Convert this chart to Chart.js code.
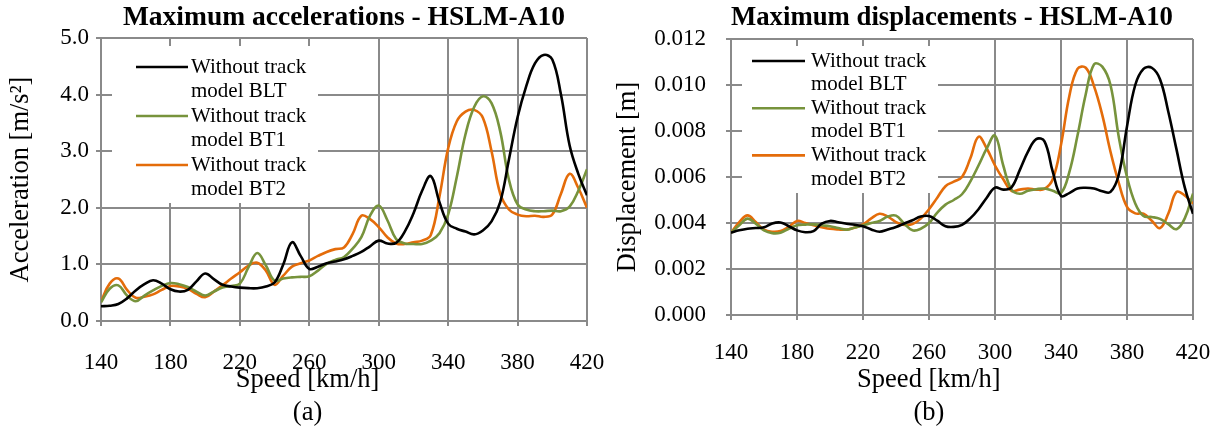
<!DOCTYPE html>
<html>
<head>
<meta charset="utf-8">
<script src="https://cdn.jsdelivr.net/npm/chart.js@4.4.1/dist/chart.umd.min.js"></script>
<style>
  html, body { margin: 0; padding: 0; background: #fff; }
  #wrap { position: relative; width: 1219px; height: 432px; overflow: hidden; }
  .box { position: absolute; top: 0; height: 432px; }
  #boxA { left: 0; width: 640px; z-index: 1; }
  #boxB { left: 600px; width: 619px; z-index: 2; }
</style>
</head>
<body>
<div id="wrap">
  <div class="box" id="boxA"><canvas id="accChart" width="640" height="432"></canvas></div>
  <div class="box" id="boxB"><canvas id="dispChart" width="619" height="432"></canvas></div>
</div>
<script>
// Speeds [km/h]
const speeds = [140, 145, 150, 155, 160, 165, 170, 175, 180, 185, 190, 195, 200, 205, 210, 215, 220, 225, 230, 235,
  240, 245, 250, 255, 260, 265, 270, 275, 280, 285, 290, 295, 300, 305, 310, 315, 320, 325, 330, 335,
  340, 345, 350, 355, 360, 365, 370, 375, 380, 385, 390, 395, 400, 405, 410, 415, 420];
const speedTicks = [140, 180, 220, 260, 300, 340, 380, 420];

// Maximum accelerations [m/s2]
const accBLT = [0.26, 0.27, 0.30, 0.40, 0.54, 0.65, 0.72, 0.66, 0.56, 0.52, 0.55, 0.70, 0.84, 0.74, 0.64, 0.61, 0.59, 0.58, 0.58, 0.61,
  0.68, 1.00, 1.39, 1.15, 0.92, 0.96, 1.02, 1.05, 1.09, 1.15, 1.22, 1.32, 1.42, 1.37, 1.38, 1.58, 1.90, 2.30, 2.56, 2.10,
  1.72, 1.63, 1.58, 1.53, 1.60, 1.76, 2.10, 2.85, 3.60, 4.15, 4.55, 4.70, 4.62, 4.00, 3.10, 2.60, 2.22];
const accBT1 = [0.33, 0.57, 0.63, 0.45, 0.35, 0.45, 0.54, 0.62, 0.67, 0.65, 0.60, 0.52, 0.45, 0.52, 0.59, 0.62, 0.66, 0.95, 1.20, 0.98,
  0.71, 0.75, 0.77, 0.78, 0.79, 0.89, 1.01, 1.08, 1.13, 1.28, 1.48, 1.86, 2.04, 1.78, 1.45, 1.37, 1.36, 1.36, 1.42, 1.55,
  1.88, 2.55, 3.30, 3.78, 3.97, 3.85, 3.35, 2.50, 2.06, 1.97, 1.94, 1.94, 1.95, 1.94, 2.02, 2.30, 2.68];
const accBT2 = [0.34, 0.66, 0.75, 0.55, 0.41, 0.43, 0.47, 0.55, 0.62, 0.61, 0.57, 0.48, 0.42, 0.52, 0.63, 0.75, 0.86, 0.98, 1.03, 0.89,
  0.64, 0.80, 0.96, 1.02, 1.07, 1.15, 1.22, 1.27, 1.30, 1.54, 1.86, 1.80, 1.66, 1.48, 1.37, 1.36, 1.39, 1.42, 1.52, 2.20,
  3.05, 3.53, 3.70, 3.73, 3.59, 3.00, 2.25, 1.97, 1.88, 1.85, 1.86, 1.84, 1.88, 2.25, 2.60, 2.35, 2.00];

// Maximum displacements [m]
const dispBLT = [0.00358, 0.00368, 0.00375, 0.00378, 0.00381, 0.00398, 0.00402, 0.00386, 0.00368, 0.00360, 0.00365, 0.00397, 0.00409, 0.00403, 0.00397, 0.00392, 0.00386, 0.00372, 0.00362, 0.00372,
  0.00383, 0.00398, 0.00412, 0.00428, 0.00430, 0.00410, 0.00386, 0.00383, 0.00392, 0.00420, 0.00460, 0.00510, 0.00554, 0.00545, 0.00555, 0.00630, 0.00710, 0.00765, 0.00755, 0.00623,
  0.00518, 0.00530, 0.00550, 0.00553, 0.00550, 0.00538, 0.00535, 0.00610, 0.00820, 0.01000, 0.01070, 0.01075, 0.01025, 0.00885, 0.00720, 0.00555, 0.00440];
const dispBT1 = [0.00358, 0.00390, 0.00419, 0.00397, 0.00368, 0.00356, 0.00358, 0.00375, 0.00390, 0.00393, 0.00394, 0.00390, 0.00386, 0.00378, 0.00371, 0.00380, 0.00390, 0.00400, 0.00409, 0.00428,
  0.00432, 0.00397, 0.00368, 0.00375, 0.00400, 0.00445, 0.00480, 0.00500, 0.00525, 0.00580, 0.00650, 0.00724, 0.00780, 0.00650, 0.00545, 0.00527, 0.00540, 0.00547, 0.00550, 0.00540,
  0.00530, 0.00620, 0.00780, 0.00960, 0.01090, 0.01080, 0.01000, 0.00775, 0.00600, 0.00485, 0.00430, 0.00426, 0.00418, 0.00395, 0.00373, 0.00420, 0.00528];
const dispBT2 = [0.00358, 0.00404, 0.00433, 0.00404, 0.00371, 0.00362, 0.00365, 0.00383, 0.00409, 0.00400, 0.00390, 0.00382, 0.00375, 0.00372, 0.00371, 0.00380, 0.00394, 0.00420, 0.00440, 0.00428,
  0.00404, 0.00392, 0.00395, 0.00419, 0.00460, 0.00510, 0.00560, 0.00580, 0.00600, 0.00680, 0.00775, 0.00724, 0.00650, 0.00590, 0.00540, 0.00545, 0.00550, 0.00545, 0.00548, 0.00590,
  0.00740, 0.00950, 0.01070, 0.01075, 0.00995, 0.00870, 0.00710, 0.00575, 0.00470, 0.00442, 0.00440, 0.00410, 0.00378, 0.00440, 0.00535, 0.00520, 0.00484];

const seriesLabels = [['Without track', 'model BLT'], ['Without track', 'model BT1'], ['Without track', 'model BT2']];
const seriesColors = ['#000000', '#77933c', '#e46c0a'];

const FONT = "'Liberation Serif', 'Times New Roman', serif";
const GRID = '#8a8a8a';
const NBSP = '\u00a0';

// Legend drawn inside the plot, with two-line labels
const insideLegend = {
  id: 'insideLegend',
  afterDatasetsDraw(chart, args, opts) {
    const ctx = chart.ctx;
    const area = chart.chartArea;
    const x0 = area.left + opts.x;
    const y0 = area.top + opts.y;
    ctx.save();
    ctx.fillStyle = '#ffffff';
    ctx.fillRect(x0, y0, opts.width, opts.height);
    ctx.font = opts.fontSize + 'px ' + FONT;
    ctx.textBaseline = 'middle';
    ctx.textAlign = 'left';
    let y = y0 + opts.firstLine;
    chart.data.datasets.forEach(ds => {
      ctx.strokeStyle = ds.borderColor;
      ctx.lineWidth = ds.borderWidth;
      ctx.beginPath();
      ctx.moveTo(x0 + opts.lineStart, y);
      ctx.lineTo(x0 + opts.lineStart + opts.lineLength, y);
      ctx.stroke();
      ctx.fillStyle = '#000000';
      ds.label.forEach(line => {
        ctx.fillText(line, x0 + opts.textStart, y);
        y += opts.lineStep;
      });
    });
    ctx.restore();
  }
};

function makeDatasets(values) {
  return values.map((vals, i) => ({
    label: seriesLabels[i],
    data: speeds.map((s, k) => ({ x: s, y: vals[k] })),
    borderColor: seriesColors[i],
    backgroundColor: seriesColors[i],
    borderWidth: 2.6,
    pointRadius: 0,
    tension: 0.4,
    fill: false
  }));
}

function makeChart(id, cfg) {
  const shift = NBSP.repeat(cfg.xTitleShift);
  return new Chart(document.getElementById(id), {
    type: 'line',
    data: { datasets: makeDatasets(cfg.series) },
    plugins: [insideLegend],
    options: {
      responsive: false,
      animation: false,
      devicePixelRatio: 1,
      layout: { padding: { left: 0, right: cfg.padRight, top: 0, bottom: 0 } },
      plugins: {
        legend: { display: false },
        tooltip: { enabled: false },
        title: {
          display: true,
          fullSize: false,
          text: cfg.title,
          color: '#000',
          font: { family: FONT, size: 27.5, weight: 'bold', lineHeight: 1.2 },
          padding: { top: 1.5, bottom: cfg.titleGap }
        },
        insideLegend: cfg.legend
      },
      scales: {
        x: {
          type: 'linear',
          min: 140,
          max: 420,
          afterBuildTicks: scale => { scale.ticks = speedTicks.map(v => ({ value: v })); },
          afterFit: scale => { scale.height = cfg.xHeight; scale.paddingLeft = 0; scale.paddingRight = 0; },
          grid: { color: GRID, lineWidth: 2, tickLength: 5 },
          border: { color: GRID, width: 2 },
          ticks: { color: '#000', font: { family: FONT, size: 23 }, padding: cfg.xTickPad, maxRotation: 0 },
          title: {
            display: true,
            text: ['Speed [km/h]' + shift, cfg.caption + shift],
            color: '#000',
            font: { family: FONT, size: 26.5, lineHeight: 1.245 },
            padding: { top: 0, bottom: 2.5 }
          }
        },
        y: {
          min: 0,
          max: cfg.yMax,
          afterBuildTicks: scale => { scale.ticks = cfg.yTicks.map(v => ({ value: v })); },
          afterFit: scale => { scale.width = cfg.yWidth; scale.paddingTop = 0; scale.paddingBottom = 0; },
          grid: { color: GRID, lineWidth: 2, tickLength: 5 },
          border: { color: GRID, width: 2 },
          ticks: {
            color: '#000',
            font: { family: FONT, size: 23 },
            padding: cfg.yTickPad,
            callback: v => v.toFixed(cfg.decimals)
          },
          title: {
            display: true,
            text: cfg.yTitle,
            color: '#000',
            font: { family: FONT, size: 26.5, lineHeight: 1.2 },
            padding: { top: cfg.yTitlePad, bottom: 0 }
          }
        }
      }
    }
  });
}

makeChart('accChart', {
  title: 'Maximum accelerations - HSLM-A10',
  series: [accBLT, accBT1, accBT2],
  yMax: 5,
  yTicks: [0, 1, 2, 3, 4, 5],
  decimals: 1,
  yTitle: 'Acceleration [m/s²]',
  caption: '(a)',
  padRight: 53,
  yWidth: 101, yTickPad: 7, yTitlePad: 5,
  titleGap: 3.5,
  xHeight: 111, xTickPad: 23, xTitleShift: 11,
  legend: { x: 11, y: 8, width: 206, height: 157, lineStart: 24, lineLength: 52, textStart: 79, firstLine: 21, lineStep: 24.5, fontSize: 21 }
});

makeChart('dispChart', {
  title: 'Maximum displacements - HSLM-A10' + NBSP.repeat(3),
  series: [dispBLT, dispBT1, dispBT2],
  yMax: 0.012,
  yTicks: [0, 0.002, 0.004, 0.006, 0.008, 0.010, 0.012],
  decimals: 3,
  yTitle: 'Displacement [m]',
  caption: '(b)',
  padRight: 26,
  yWidth: 131, yTickPad: 20, yTitlePad: 12,
  titleGap: 4.5,
  xHeight: 117, xTickPad: 19, xTitleShift: 10,
  legend: { x: 11, y: 7, width: 196, height: 147, lineStart: 10, lineLength: 53, textStart: 69, firstLine: 15, lineStep: 23.6, fontSize: 21 }
});
</script>
</body>
</html>
